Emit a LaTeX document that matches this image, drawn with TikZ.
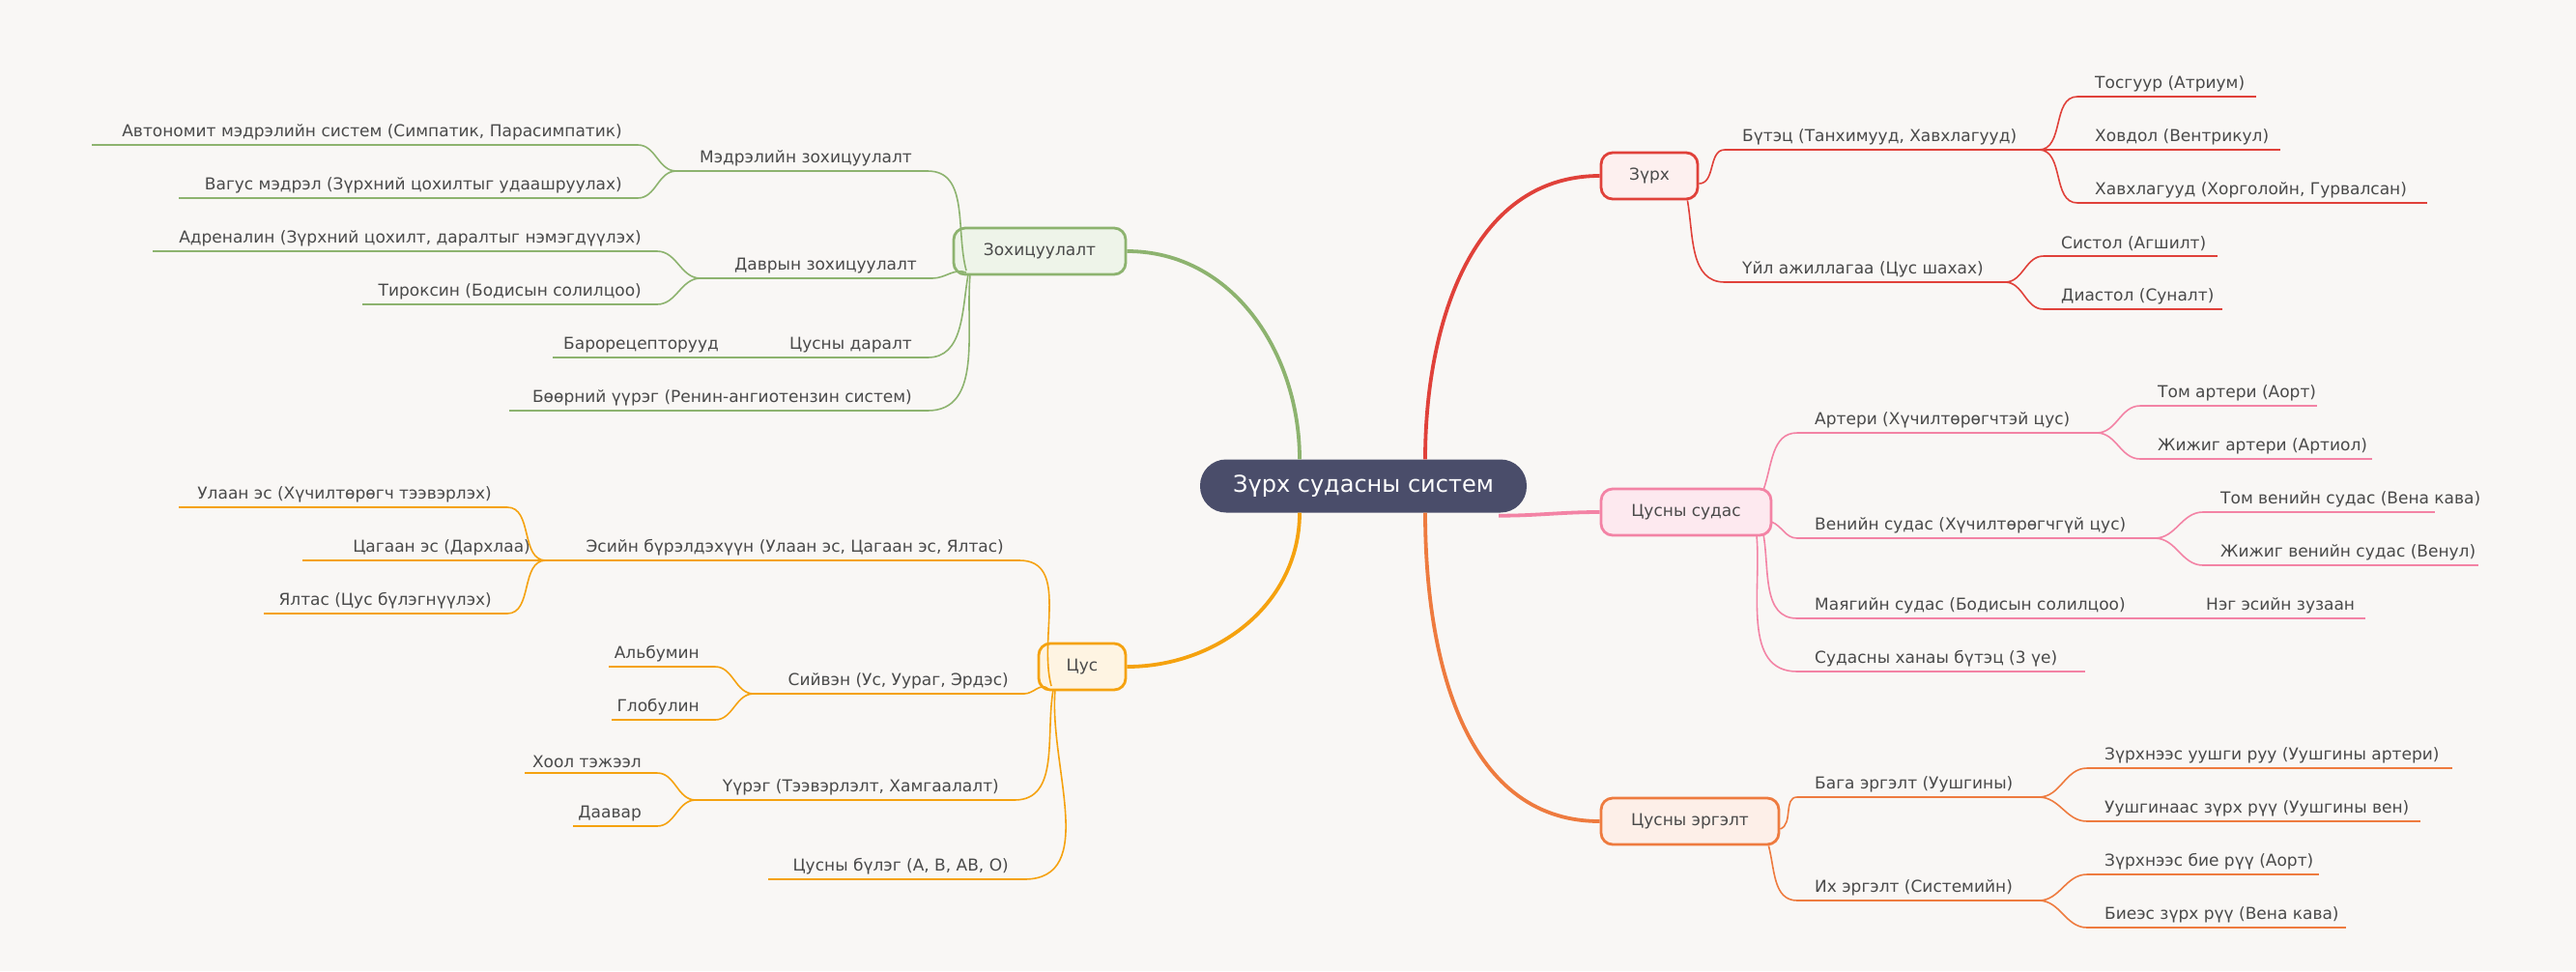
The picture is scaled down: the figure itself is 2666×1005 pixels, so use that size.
\documentclass[tikz,border=0pt]{standalone}
\usepackage{fontspec}
\setmainfont{DejaVu Sans}
\begin{document}
\definecolor{bg}{HTML}{F9F7F5}
\definecolor{tx}{HTML}{4A4A4A}
\definecolor{cred}{HTML}{E0413A}
\definecolor{cpink}{HTML}{F383A5}
\definecolor{corg}{HTML}{EE7B3F}
\definecolor{cgrn}{HTML}{8DB36F}
\definecolor{camb}{HTML}{F5A20F}
\definecolor{cdark}{HTML}{4A4D6A}
\begin{tikzpicture}[x=1pt,y=-1pt,
 leaf/.style={line width=1.6pt},
 main/.style={line width=3.8pt},
 lbl/.style={inner sep=2pt,text=tx,font=\fontsize{17}{20}\selectfont},
 box/.style={rounded corners=12pt,line width=2.8pt,minimum height=48,text=tx,font=\fontsize{17}{20}\selectfont}]
\newcommand\Rl[6]{\coordinate (#2a) at (#3,#5); \coordinate (#2b) at (#4,#5); \draw[leaf,#1] (#2a) -- (#2b); \node[lbl,anchor=south west] (#2t) at ([xshift=16,yshift=3]#2a) {#6};}
\newcommand\Ll[6]{\coordinate (#2a) at (#3,#5); \coordinate (#2b) at (#4,#5); \draw[leaf,#1] (#2a) -- (#2b); \node[lbl,anchor=south east] (#2t) at ([xshift=-14,yshift=3]#2b) {#6};}
\fill[bg] (0,0) rectangle (2666,1005);
\node[rounded corners=27pt,fill=cdark,minimum width=338,minimum height=55,text=white,font=\fontsize{24}{28}\selectfont] (cn) at (1411,503) {Зүрх судасны систем};
\node[box,draw=cred,fill=cred!8,minimum width=100] (zr) at (1707,182) {Зүрх};
\node[box,draw=cpink,fill=cpink!18,minimum width=176] (cs) at (1745,530) {Цусны судас};
\node[box,draw=corg,fill=corg!12,minimum width=184] (ce) at (1749,850) {Цусны эргэлт};
\node[box,draw=cgrn,fill=cgrn!15,minimum width=178] (zo) at (1076,260) {Зохицуулалт};
\node[box,draw=camb,fill=camb!12,minimum width=90] (cu) at (1120,690) {Цус};
\draw[main,cred] ([xshift=64]cn.north) to[out=90,in=180] (zr.west);
\draw[main,cpink] ([xshift=140,yshift=-3]cn.south) to[out=0,in=180] (cs.west);
\draw[main,corg] ([xshift=64]cn.south) to[out=-90,in=180] (ce.west);
\draw[main,cgrn] ([xshift=-66]cn.north) to[out=90,in=0] (zo.east);
\draw[main,camb] ([xshift=-66]cn.south) to[out=-90,in=0] (cu.east);
% Zurkh
\Rl{cred}{bt}{1785}{2110}{155}{Бүтэц (Танхимууд, Хавхлагууд)}
\Rl{cred}{tos}{2150}{2335}{100}{Тосгуур (Атриум)}
\Rl{cred}{hov}{2150}{2360}{155}{Ховдол (Вентрикул)}
\Rl{cred}{hav}{2150}{2512}{210}{Хавхлагууд (Хорголойн, Гурвалсан)}
\Rl{cred}{ua}{1785}{2075}{292}{Үйл ажиллагаа (Цус шахах)}
\Rl{cred}{sis}{2115}{2295}{265}{Систол (Агшилт)}
\Rl{cred}{dia}{2115}{2300}{320}{Диастол (Суналт)}
\draw[leaf,cred] ([yshift=-8]zr.east) to[out=0,in=180] (bta);
\draw[leaf,cred] ([xshift=-12]zr.south east) to[out=-80,in=180] (uaa);
\foreach \c in {tos,hov,hav}{\draw[leaf,cred] (btb) to[out=0,in=180] (\c a);}
\foreach \c in {sis,dia}{\draw[leaf,cred] (uab) to[out=0,in=180] (\c a);}
% Tsusny sudas
\Rl{cpink}{art}{1860}{2170}{448}{Артери (Хүчилтөрөгчтэй цус)}
\Rl{cpink}{tart}{2215}{2398}{420}{Том артери (Аорт)}
\Rl{cpink}{jart}{2215}{2455}{475}{Жижиг артери (Артиол)}
\Rl{cpink}{ven}{1860}{2230}{557}{Венийн судас (Хүчилтөрөгчгүй цус)}
\Rl{cpink}{tven}{2280}{2520}{530}{Том венийн судас (Вена кава)}
\Rl{cpink}{jven}{2280}{2565}{585}{Жижиг венийн судас (Венул)}
\Rl{cpink}{may}{1860}{2240}{640}{Маягийн судас (Бодисын солилцоо)}
\Rl{cpink}{neg}{2265}{2448}{640}{Нэг эсийн зузаан}
\Rl{cpink}{san}{1860}{2158}{695}{Судасны ханаы бүтэц (3 үе)}
\draw[leaf,cpink] (1825,507) to[out=70,in=180] (arta);
\draw[leaf,cpink] (1833,540) to[out=-20,in=180] (vena);
\draw[leaf,cpink] (1825,553) to[out=-80,in=180] (maya);
\draw[leaf,cpink] (1818,554) to[out=-85,in=180] (sana);
\foreach \c in {tart,jart}{\draw[leaf,cpink] (artb) to[out=0,in=180] (\c a);}
\foreach \c in {tven,jven}{\draw[leaf,cpink] (venb) to[out=0,in=180] (\c a);}
\draw[leaf,cpink] (mayb) -- (nega);
% Tsusny ergelt
\Rl{corg}{bag}{1860}{2110}{825}{Бага эргэлт (Уушгины)}
\Rl{corg}{bag1}{2160}{2538}{795}{Зүрхнээс уушги руу (Уушгины артери)}
\Rl{corg}{bag2}{2160}{2505}{850}{Уушгинаас зүрх рүү (Уушгины вен)}
\Rl{corg}{ikh}{1860}{2110}{932}{Их эргэлт (Системийн)}
\Rl{corg}{ikh1}{2160}{2400}{905}{Зүрхнээс бие рүү (Аорт)}
\Rl{corg}{ikh2}{2160}{2428}{960}{Биеэс зүрх рүү (Вена кава)}
\draw[leaf,corg] ([yshift=-8]ce.east) to[out=20,in=180] (baga);
\draw[leaf,corg] ([xshift=-12]ce.south east) to[out=-75,in=180] (ikha);
\foreach \c in {bag1,bag2}{\draw[leaf,corg] (bagb) to[out=0,in=180] (\c a);}
\foreach \c in {ikh1,ikh2}{\draw[leaf,corg] (ikhb) to[out=0,in=180] (\c a);}
% Zokhitsuulalt
\Ll{cgrn}{mer}{700}{960}{177}{Мэдрэлийн зохицуулалт}
\Ll{cgrn}{avt}{95}{660}{150}{Автономит мэдрэлийн систем (Симпатик, Парасимпатик)}
\Ll{cgrn}{vag}{185}{660}{205}{Вагус мэдрэл (Зүрхний цохилтыг удаашруулах)}
\Ll{cgrn}{dav}{725}{965}{288}{Даврын зохицуулалт}
\Ll{cgrn}{adr}{158}{680}{260}{Адреналин (Зүрхний цохилт, даралтыг нэмэгдүүлэх)}
\Ll{cgrn}{tir}{375}{680}{315}{Тироксин (Бодисын солилцоо)}
\Ll{cgrn}{dar}{800}{960}{370}{Цусны даралт}
\Ll{cgrn}{bar}{572}{760}{370}{Барорецепторууд}
\Ll{cgrn}{boo}{527}{960}{425}{Бөөрний үүрэг (Ренин-ангиотензин систем)}
\draw[leaf,cgrn] (1000,280) to[out=105,in=0] (merb);
\draw[leaf,cgrn] (1000,282) to[out=160,in=0] (davb);
\draw[leaf,cgrn] (1002,284) to[out=-100,in=0] (darb);
\draw[leaf,cgrn] (1004,284) to[out=-95,in=0] (boob);
\foreach \c in {avt,vag}{\draw[leaf,cgrn] (mera) to[out=180,in=0] (\c b);}
\foreach \c in {adr,tir}{\draw[leaf,cgrn] (dava) to[out=180,in=0] (\c b);}
\draw[leaf,cgrn] (dara) -- (barb);
% Tsus
\Ll{camb}{esi}{565}{1055}{580}{Эсийн бүрэлдэхүүн (Улаан эс, Цагаан эс, Ялтас)}
\Ll{camb}{ula}{185}{525}{525}{Улаан эс (Хүчилтөрөгч тээвэрлэх)}
\Ll{camb}{tsag}{313}{565}{580}{Цагаан эс (Дархлаа)}
\Ll{camb}{yal}{273}{525}{635}{Ялтас (Цус бүлэгнүүлэх)}
\Ll{camb}{siy}{780}{1060}{718}{Сийвэн (Ус, Уураг, Эрдэс)}
\Ll{camb}{alb}{630}{740}{690}{Альбумин}
\Ll{camb}{glo}{633}{740}{745}{Глобулин}
\Ll{camb}{uur}{720}{1050}{828}{Үүрэг (Тээвэрлэлт, Хамгаалалт)}
\Ll{camb}{hoo}{543}{680}{800}{Хоол тэжээл}
\Ll{camb}{daa}{593}{680}{855}{Даавар}
\Ll{camb}{bul}{795}{1060}{910}{Цусны бүлэг (A, B, AB, O)}
\draw[leaf,camb] (1088,710) to[out=105,in=0] (esib);
\draw[leaf,camb] (1084,712) to[out=150,in=0] (siyb);
\draw[leaf,camb] (1090,714) to[out=-100,in=0] (uurb);
\draw[leaf,camb] (1092,714) to[out=-95,in=0] (bulb);
\foreach \c in {ula,yal}{\draw[leaf,camb] (esia) to[out=180,in=0] (\c b);}
\foreach \c in {alb,glo}{\draw[leaf,camb] (siya) to[out=180,in=0] (\c b);}
\foreach \c in {hoo,daa}{\draw[leaf,camb] (uura) to[out=180,in=0] (\c b);}
\end{tikzpicture}
\end{document}
